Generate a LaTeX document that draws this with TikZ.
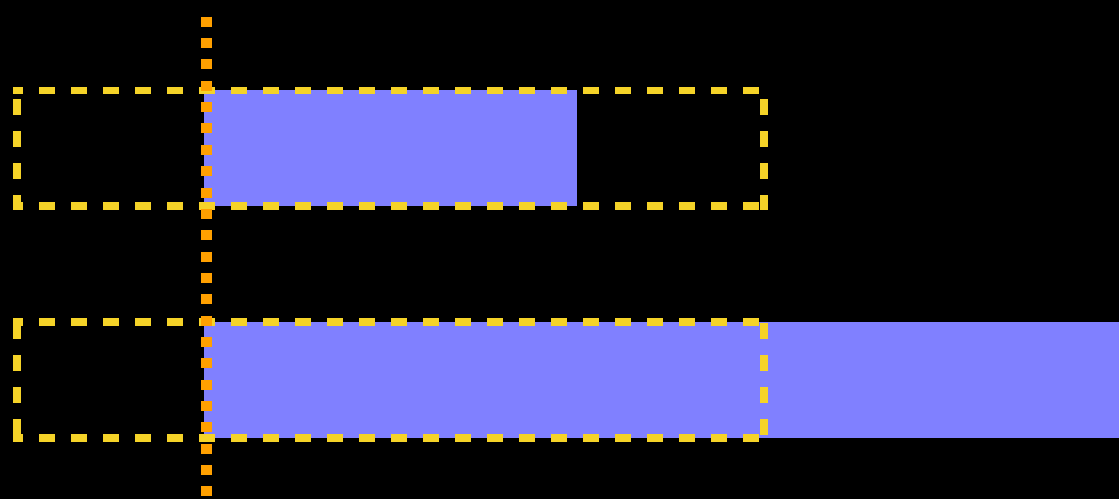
\documentclass[tikz,border=0pt]{standalone}
\definecolor{barblue}{RGB}{128,128,255}
\definecolor{boxyellow}{RGB}{245,211,40}
\definecolor{guideorange}{RGB}{255,160,0}
\begin{document}
\begin{tikzpicture}[x=1pt,y=-1pt,
  bar/.style={fill=barblue},
  boxline/.style={draw=boxyellow,line width=7.7pt,line cap=rect,dash pattern=on 8pt off 24pt},
  guide/.style={draw=guideorange,line width=11pt,dash pattern=on 10pt off 11.35pt}]
\fill[black] (0,0) rectangle (1119,499);
\useasboundingbox (0,0) rectangle (1119,499);
% bars
\fill[bar] (204,90) rectangle (577,205.7);
\fill[bar] (204,322) rectangle (1119,437.7);
% top box
\coordinate (t1) at (17.3,90.5);
\coordinate (t2) at (764,90.5);
\coordinate (t3) at (764,206);
\coordinate (t4) at (17.3,206);
\draw[boxline,dash phase=6.3pt] (t1) -- (t2);
\draw[boxline,dash phase=6.3pt] (t4) -- (t3);
\draw[boxline,dash phase=19.2pt] (t1) -- (t4);
\draw[boxline,dash phase=19.2pt] (t2) -- (t3);
% bottom box
\coordinate (b1) at (17.3,322);
\coordinate (b2) at (764,322);
\coordinate (b3) at (764,438);
\coordinate (b4) at (17.3,438);
\draw[boxline,dash phase=6.3pt] (b1) -- (b2);
\draw[boxline,dash phase=6.3pt] (b4) -- (b3);
\draw[boxline,dash phase=26.7pt] (b1) -- (b4);
\draw[boxline,dash phase=26.7pt] (b2) -- (b3);
% guide
\coordinate (g1) at (206.8,16.7);
\coordinate (g2) at (206.8,499);
\draw[guide] (g1) -- (g2);
\end{tikzpicture}
\end{document}
